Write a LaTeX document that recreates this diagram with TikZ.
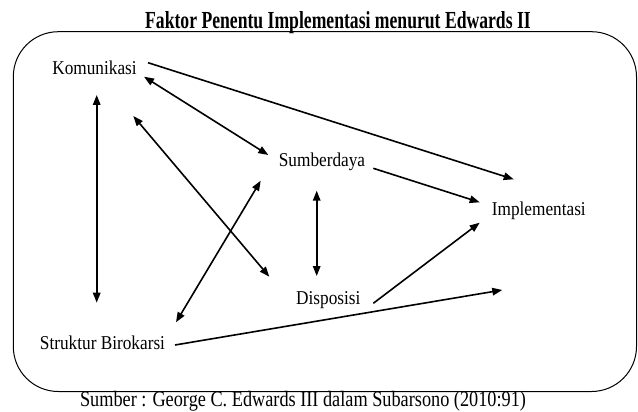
\documentclass[tikz,border=0pt]{standalone}
\usepackage{fontspec}
\setmainfont{Liberation Serif}[FakeStretch=0.88]
\newfontfamily\titlefont{Liberation Serif}[FakeStretch=0.72]
\newfontfamily\sourcefont{Liberation Serif}[FakeStretch=0.83]
\usetikzlibrary{arrows.meta}

\begin{document}
\begin{tikzpicture}
[every node/.style={inner sep=0pt, anchor=base},
 factor/.style={font=\fontsize{19.6pt}{22pt}\selectfont},
 link/.style={line width=1.6pt, -{Triangle[length=10pt, width=7.5pt]}},
 both/.style={line width=1.6pt, {Triangle[length=10pt, width=7.5pt]}-{Triangle[length=10pt, width=7.5pt]}}]
\useasboundingbox (0pt, 0pt) rectangle (638pt, -412pt);
\draw [line width=1pt, rounded corners=45pt] (13.3pt, -31.7pt) rectangle (636.5pt, -391.5pt);
\node (title) at (338.0pt, -29.0pt) {\titlefont\bfseries\fontsize{24.5pt}{26pt}\selectfont Faktor Penentu Implementasi menurut Edwards II};
\node (kom) [factor] at (94.5pt, -75.0pt) {Komunikasi};
\node (sumb) [factor] at (322.0pt, -166.7pt) {Sumberdaya};
\node (impl) [factor] at (538.8pt, -215.7pt) {Implementasi};
\node (disp) [factor] at (328.3pt, -304.0pt) {Disposisi};
\node (strk) [factor] at (102.5pt, -349.3pt) {Struktur Birokarsi};
\node (src) at (303.0pt, -406.5pt) {\sourcefont\fontsize{22pt}{24pt}\selectfont Sumber : George C. Edwards III dalam Subarsono (2010:91)};
\coordinate (free) at (502.3pt, -290.0pt);
\draw [link] ([shift={(53.5pt, 12.3pt)}]kom.base) to ([shift={(-25.1pt, 36.4pt)}]impl.base);
\draw [both] ([shift={(49.5pt, -1.7pt)}]kom.base) to ([shift={(-53.7pt, 11.7pt)}]sumb.base);
\draw [both] ([shift={(2.2pt, -20.0pt)}]kom.base) to ([shift={(-5.8pt, 46.6pt)}]strk.base);
\draw [both] ([shift={(38.8pt, -41.0pt)}]kom.base) to ([shift={(-59.0pt, 27.3pt)}]disp.base);
\draw [both] ([shift={(-61.3pt, -14.0pt)}]sumb.base) to ([shift={(73.5pt, 27.0pt)}]strk.base);
\draw [both] ([shift={(-5.3pt, -24.0pt)}]sumb.base) to ([shift={(-11.6pt, 28.0pt)}]disp.base);
\draw [link] ([shift={(51.3pt, -1.6pt)}]sumb.base) to ([shift={(-59.1pt, 13.4pt)}]impl.base);
\draw [link] ([shift={(45.0pt, 0.7pt)}]disp.base) to ([shift={(-59.1pt, -7.0pt)}]impl.base);
\draw [link] ([shift={(72.5pt, 4.3pt)}]strk.base) to (free);
\end{tikzpicture}
\end{document}
